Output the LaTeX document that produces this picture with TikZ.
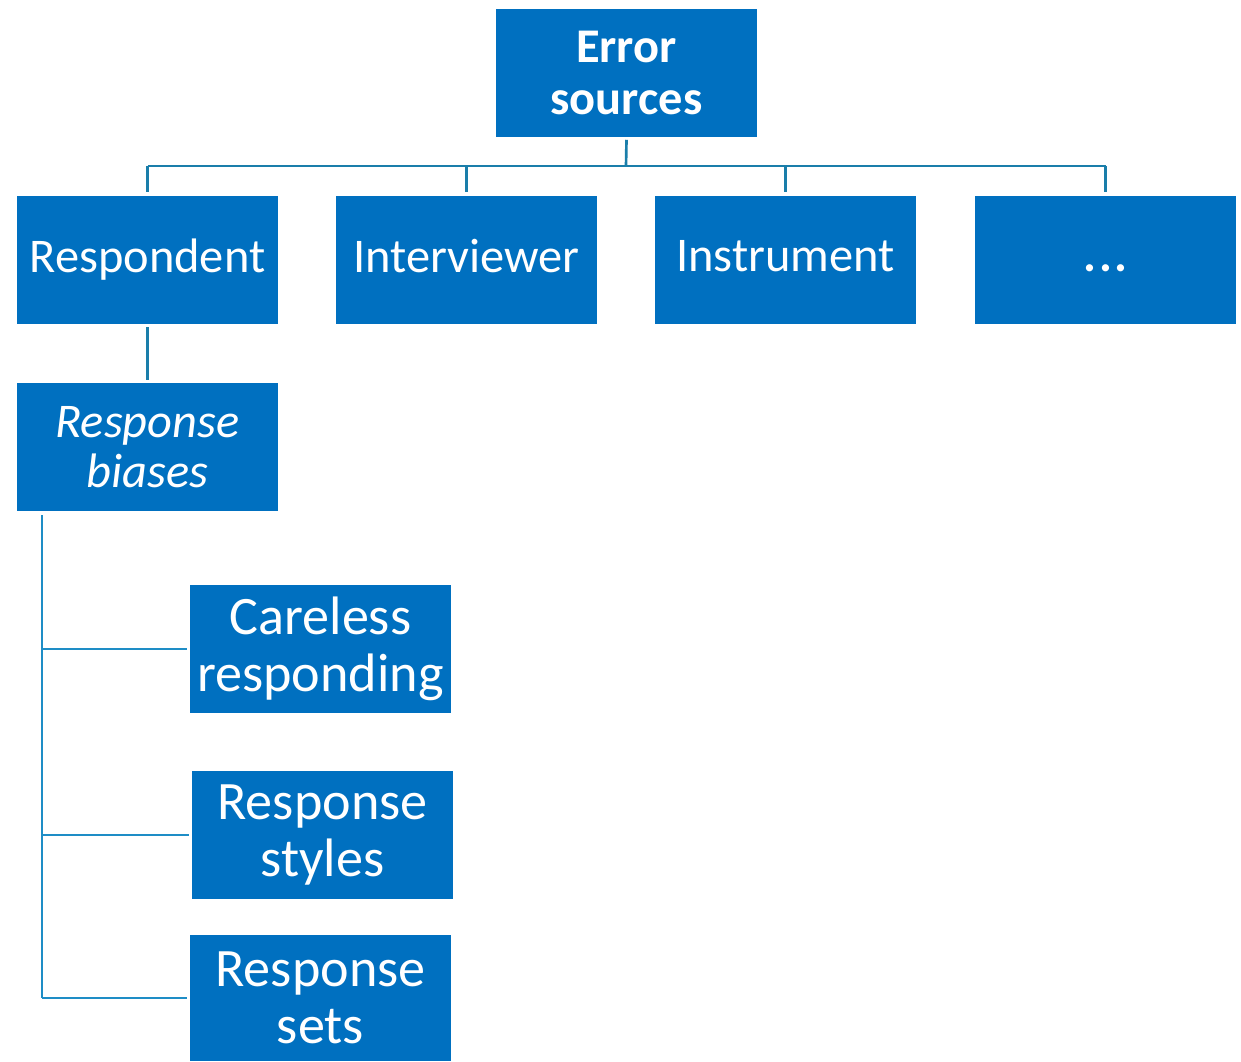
\documentclass[tikz,border=0pt]{standalone}
\usepackage{fontspec}
\setmainfont{Carlito}
\definecolor{boxblue}{HTML}{0070C0}
\definecolor{lineA}{HTML}{1A7EAA}
\definecolor{lineB}{HTML}{1E8DC6}
\newcommand{\mystrut}{\vphantom{Rp}}
\begin{document}
\begin{tikzpicture}[x=0.75pt,y=-0.75pt,
  box/.style={fill=boxblue, draw=none, text=white, minimum width=261*0.75pt, minimum height=128*0.75pt, align=center, inner sep=0pt},
  lvlA/.style={box, font=\fontsize{36.3}{39}\selectfont},
  lvlB/.style={box, font=\fontsize{40.6}{43}\selectfont},
  conA/.style={draw=lineA, line width=2pt},
  conB/.style={draw=lineB, line width=2pt}]
\useasboundingbox (0,0) rectangle (1241,1061);
\node[lvlA, font=\bfseries\fontsize{36.3}{39}\selectfont] (err) at (626.5,72.5) {Error\\sources};
\node[lvlA] (resp) at (147.5,260) {\mystrut Respondent};
\node[lvlA] (int) at (466.5,260) {\mystrut Interviewer};
\node[lvlA] (ins) at (785.5,260) {\mystrut Instrument};
\node[lvlA] (dots) at (1105.5,260) {\mystrut{\bfseries .}\kern2pt{\bfseries .}\kern2pt{\bfseries .}};
\node[lvlA, font=\itshape\fontsize{36.3}{38}\selectfont] (bias) at (147.5,447) {Response\\biases};
\node[lvlB] (care) at (320.5,649) {Careless\\responding};
\node[lvlB] (styl) at (322.5,835) {Response\\styles};
\node[lvlB, minimum height=126*0.75pt] (sets) at (320.5,998) {Response\\sets};
\coordinate (hub) at (626,166);
\draw[conA] ([yshift=-3*0.75pt]err.south) -- (hub);
\draw[conA] (resp.north |- hub) -- (dots.north |- hub);
\foreach \n in {resp,int,ins,dots}{
  \draw[conA] (\n.north |- hub) -- ([yshift=4*0.75pt]\n.north);
}
\draw[conA] ([yshift=-3*0.75pt]resp.south) -- ([yshift=3*0.75pt]bias.north);
\coordinate (trunk) at (42,515);
\coordinate (tend) at (42,998);
\draw[conB] (trunk) -- (tend);
\draw[conB] (trunk |- care.west) -- ([xshift=-3*0.75pt]care.west);
\draw[conB] (trunk |- styl.west) -- ([xshift=-3*0.75pt]styl.west);
\draw[conB] (trunk |- sets.west) -- ([xshift=-3*0.75pt]sets.west);
\end{tikzpicture}
\end{document}
